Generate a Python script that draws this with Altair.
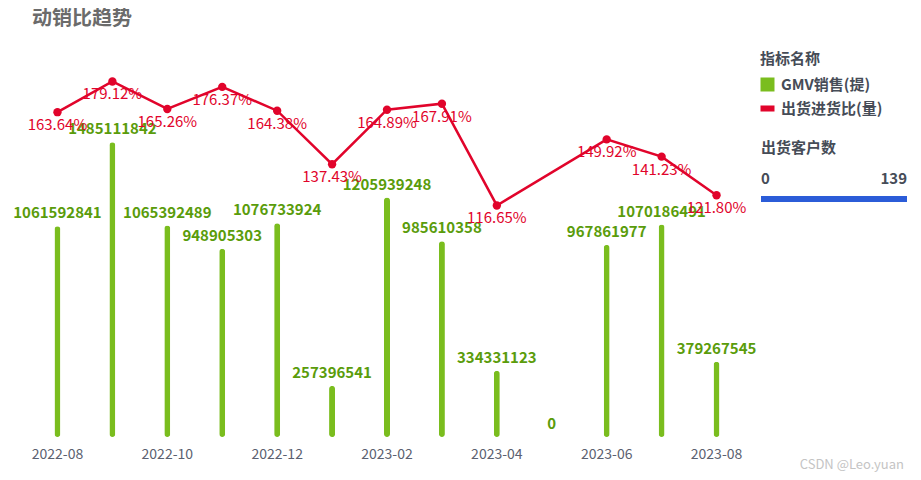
import altair as alt
import pandas as pd

months = ["2022-08", "2022-09", "2022-10", "2022-11", "2022-12", "2023-01", "2023-02",
          "2023-03", "2023-04", "2023-05", "2023-06", "2023-07", "2023-08"]
gmv = [1061592841, 1485111842, 1065392489, 948905303, 1076733924, 257396541, 1205939248,
       985610358, 334331123, 0, 967861977, 1070186491, 379267545]
ratio = [163.64, 179.12, 165.26, 176.37, 164.38, 137.43, 164.89,
         167.91, 116.65, None, 149.92, 141.23, 121.80]
tick_labels = ["2022-08", "2022-10", "2022-12", "2023-02", "2023-04", "2023-06", "2023-08"]
series_names = ["GMV销售(提)", "出货进货比(量)"]
series_colors = ["#7ABD1E", "#E1042B"]
series_shapes = ["square", "M-1,-0.43H1V0.43H-1Z"]
customer_range = [0, 139]
chart_title = ["动销比趋势"]
watermark = ["CSDN @Leo.yuan"]

GREEN = series_colors[0]
RED = series_colors[1]
LABEL_GREEN = "#5A9C0B"
FONT = "Noto Sans CJK SC"
LEG_TEXT = "#464C57"

df = pd.DataFrame({"month": months, "gmv": gmv, "ratio": ratio})

x = alt.X("month:O", sort=months, title=None,
          scale=alt.Scale(paddingInner=0, paddingOuter=0),
          axis=alt.Axis(values=tick_labels, labelAngle=0, domain=False, ticks=False, grid=False,
                        labelFontSize=14, labelColor="#5B6170", labelPadding=10, labelFont=FONT))

y_gmv = alt.Y("gmv:Q", scale=alt.Scale(domain=[0, 2e9]), axis=None)
y_ratio = alt.Y("ratio:Q", scale=alt.Scale(domain=[0, 200]), axis=None)

bars = alt.Chart(df).mark_bar(width=6, cornerRadius=3, color=GREEN).encode(x=x, y=y_gmv)
bar_text = alt.Chart(df).mark_text(dy=-5, baseline="bottom", fontSize=15, fontWeight="bold",
                                   color=LABEL_GREEN, font=FONT).encode(
    x=x, y=y_gmv, text=alt.Text("gmv:Q", format="d"))

line_base = alt.Chart(df).transform_filter("isValid(datum.ratio)")
line = line_base.mark_line(color=RED, strokeWidth=2.5).encode(x=x, y=y_ratio)
pts = line_base.mark_point(filled=True, size=70, opacity=1, color=RED).encode(x=x, y=y_ratio)
line_text = line_base.transform_calculate(
    label="format(datum.ratio, '.2f') + '%'"
).mark_text(dy=13, baseline="middle", fontSize=15, color=RED, font=FONT).encode(
    x=x, y=y_ratio, text="label:N")

leg_common = dict(titleFontSize=15, titleFontWeight="bold", titleColor=LEG_TEXT, titleFont=FONT,
                  labelFontSize=15, labelFontWeight="bold", labelColor=LEG_TEXT, labelFont=FONT)

series_leg = alt.Legend(title="指标名称", orient="none", legendX=730, legendY=12,
                        titlePadding=10, labelOffset=6, symbolSize=196, symbolStrokeWidth=0,
                        symbolOpacity=1, rowPadding=8, **leg_common)

legend_layer = alt.Chart(pd.DataFrame({"series": series_names})).mark_point(
    filled=True, size=0).encode(
    x=alt.value(0), y=alt.value(0),
    color=alt.Color("series:N", scale=alt.Scale(domain=series_names, range=series_colors),
                    legend=series_leg),
    shape=alt.Shape("series:N", scale=alt.Scale(domain=series_names, range=series_shapes),
                    legend=series_leg),
)

cust = alt.Chart(pd.DataFrame({"customers": customer_range})).mark_point(size=0).encode(
    x=alt.value(0), y=alt.value(0),
    stroke=alt.Stroke("customers:Q",
                      scale=alt.Scale(domain=customer_range, range=["#2B5CD8", "#2B5CD8"]),
                      legend=alt.Legend(title="出货客户数", orient="none", legendX=731, legendY=101,
                                        direction="horizontal", gradientLength=146,
                                        gradientThickness=6, gradientStrokeWidth=0,
                                        gradientOpacity=1,
                                        values=customer_range, titlePadding=40,
                                        labelOffset={"expr": "-30"}, **leg_common)))

title_mark = alt.Chart(pd.DataFrame({"t": chart_title})).mark_text(
    fontSize=20, fontWeight="bold", color="#6B6B6B", font=FONT, align="left",
    baseline="alphabetic").encode(x=alt.value(2), y=alt.value(-15), text="t:N")

wm = alt.Chart(pd.DataFrame({"t": watermark})).mark_text(
    fontSize=13, color="#C4C4C4", font=FONT, align="right").encode(
    x=alt.value(874), y=alt.value(425), text="t:N")

chart = alt.layer(
    alt.layer(bars, bar_text),
    alt.layer(line, pts, line_text),
    legend_layer, cust, title_mark, wm,
).resolve_scale(y="independent").properties(
    width=714, height=397,
    autosize=alt.AutoSizeParams(type="none"),
    padding={"left": 22, "top": 32, "right": 169, "bottom": 35},
    background="white",
).configure_view(stroke=None)

chart.save("out.html", embed_options={"renderer": "svg", "actions": False})
